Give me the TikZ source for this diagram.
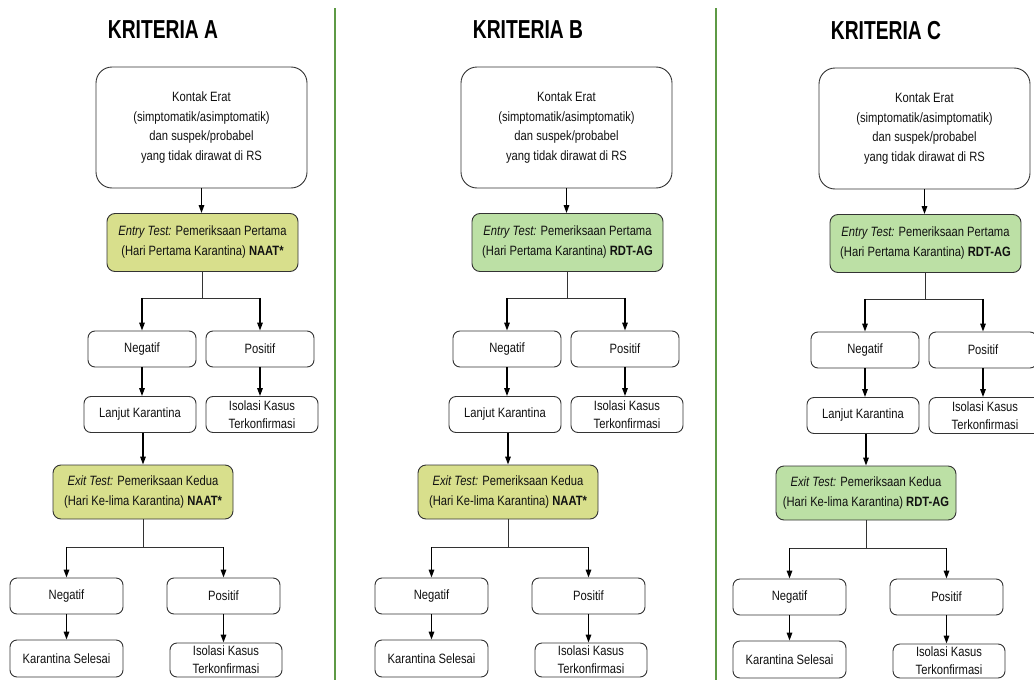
\documentclass[tikz,border=0pt]{standalone}
\usepackage{fontspec}
\setmainfont{Liberation Sans}[FakeStretch=0.83]
\newfontfamily\krheadfont{Liberation Sans}[FakeStretch=0.74]
\usetikzlibrary{arrows.meta, positioning, calc}
\definecolor{krtext}{HTML}{111111}
\definecolor{krline}{HTML}{333333}
\definecolor{kryel}{HTML}{D8DF8C}
\definecolor{krgrn}{HTML}{BCE0A5}
\definecolor{krdiv}{HTML}{5E9A45}
\tikzset{
  krbox/.style={rectangle, rounded corners=7pt, draw=krline, fill=white, text=krtext,
              align=center, font=\fontsize{13.5}{18}\selectfont, inner sep=1pt, line width=0.9pt},
  krtop/.style={krbox, rounded corners=16pt, minimum width=211pt, minimum height=121pt,
              font=\fontsize{13.5}{19.5}\selectfont},
  krtest/.style={krbox, rounded corners=8pt, minimum width=191pt, minimum height=58pt,
              font=\fontsize{13.5}{20}\selectfont},
  krsmall/.style={krbox, minimum width=108pt, minimum height=36pt},
  krtitle/.style={font=\krheadfont\fontsize{26}{26}\selectfont\bfseries, text=black},
  krarrow/.style={-{Triangle[length=8pt,width=5.5pt]}, draw=black, line width=1.4pt},
  krjoin/.style={draw=krline, line width=0.8pt},
  krdivider/.style={draw=krdiv, line width=2.5pt},
}

\begin{document}
\begin{tikzpicture}[x=1pt, y=-1pt]
  \useasboundingbox (0,0) rectangle (1034,680);
  \draw[krdivider] (335,8) -- (335,680);
  \draw[krdivider] (716,8) -- (716,680);
  \foreach \col/\dx/\dy/\entfill/\enttest/\exfill/\extest in
      {A/0/0/kryel/NAAT*/kryel/NAAT*, B/365/0/krgrn/RDT-AG/kryel/NAAT*, C/723/1/krgrn/RDT-AG/krgrn/RDT-AG}{
  \begin{scope}[shift={(\dx,\dy)}]
    \node[krtitle] (title\col) at (163,30) {KRITERIA \col};
    \node[krtop] (kontak\col) at (201.5,127.5)
      {Kontak Erat\\(simptomatik/asimptomatik)\\dan suspek/probabel\\yang tidak dirawat di RS};
    \node[krtest, fill=\entfill] (entry\col) at (202.5,242.5)
      {\textit{Entry Test:} Pemeriksaan Pertama\\(Hari Pertama Karantina) \textbf{\enttest}};
    \node[krsmall] (negA\col) at (142,349) {Negatif};
    \node[krsmall] (posA\col) at (260,349) {Positif};
    \node[krsmall, minimum width=112pt] (lanjut\col) at (140,414.5) {Lanjut Karantina};
    \node[krsmall, minimum width=112pt] (isoA\col) at (262,414.5) {Isolasi Kasus\\Terkonfirmasi};
    \node[krtest, fill=\exfill, minimum width=180pt, minimum height=54pt] (exit\col) at (143,492)
      {\textit{Exit Test:} Pemeriksaan Kedua\\(Hari Ke-lima Karantina) \textbf{\extest}};
    \node[krsmall, minimum width=113pt] (negB\col) at (66.5,596) {Negatif};
    \node[krsmall, minimum width=113pt] (posB\col) at (223.5,596) {Positif};
    \node[krsmall, minimum width=113pt, minimum height=37pt] (selesai\col) at (66.5,658.5) {Karantina Selesai};
    \node[krsmall, minimum width=112pt, minimum height=34pt] (isoB\col) at (226,660) {Isolasi Kasus\\Terkonfirmasi};
    \draw[krarrow] (kontak\col.south) -- (kontak\col.south |- entry\col.north);
    \coordinate (splitA\col) at ($(entry\col.south)+(0,26)$);
    \draw[krjoin] (entry\col.south) -- (splitA\col);
    \draw[krjoin] (negA\col.north |- splitA\col) -- (posA\col.north |- splitA\col);
    \draw[krarrow] (negA\col.north |- splitA\col) -- (negA\col.north);
    \draw[krarrow] (posA\col.north |- splitA\col) -- (posA\col.north);
    \draw[krarrow] (negA\col.south) -- (negA\col.south |- lanjut\col.north);
    \draw[krarrow] (posA\col.south) -- (posA\col.south |- isoA\col.north);
    \draw[krarrow] (exit\col.north |- lanjut\col.south) -- (exit\col.north);
    \coordinate (splitB\col) at ($(exit\col.south)+(0,28)$);
    \draw[krjoin] (exit\col.south) -- (splitB\col);
    \draw[krjoin] (negB\col.north |- splitB\col) -- (posB\col.north |- splitB\col);
    \draw[krarrow] (negB\col.north |- splitB\col) -- (negB\col.north);
    \draw[krarrow] (posB\col.north |- splitB\col) -- (posB\col.north);
    \draw[krarrow] (negB\col.south) -- (negB\col.south |- selesai\col.north);
    \draw[krarrow] (posB\col.south) -- (posB\col.south |- isoB\col.north);
  \end{scope}
  }
\end{tikzpicture}
\end{document}
